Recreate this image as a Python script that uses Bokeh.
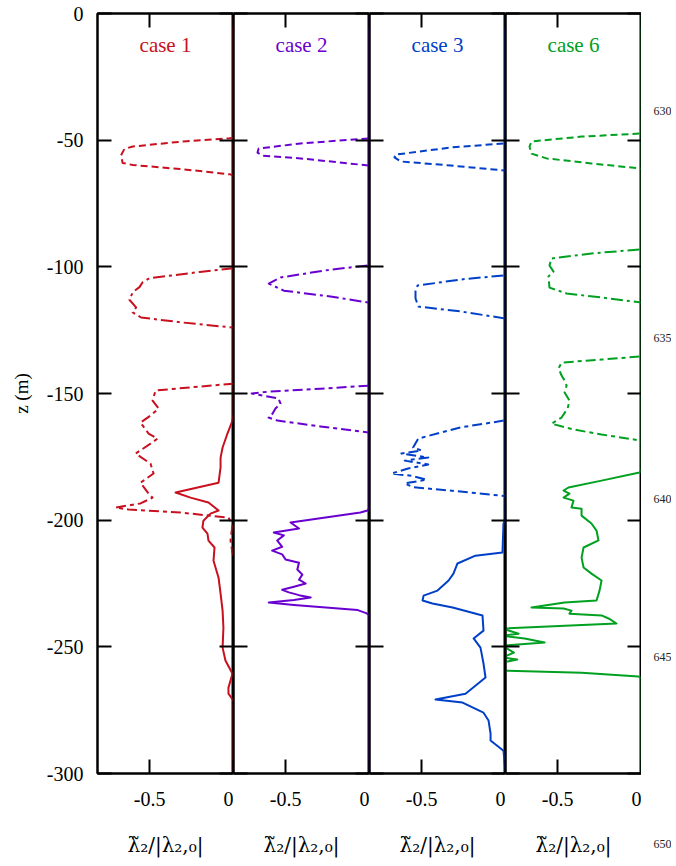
from bokeh.plotting import figure
from bokeh.models import Range1d, FixedTicker, LinearAxis, Label
from bokeh.layouts import row
from bokeh.embed import file_html
from bokeh.resources import INLINE

# ---------------- data (x = lambda2~/|lambda2,0| , z in m) ----------------
case_names = ["case 1", "case 2", "case 3", "case 6"]
case_colors = ["#c8101e", "#6a00d0", "#0040c8", "#00a020"]

# case 1
c1_a_x = [0, -0.03, -0.3, -0.6, -0.65, -0.67, -0.66, -0.6, -0.3, -0.02, 0]
c1_a_z = [-49, -49.3, -50.5, -52.5, -53.5, -56, -59, -59.8, -61.5, -63.5, -64]
c1_b_x = [0, -0.2, -0.5, -0.54, -0.56, -0.6, -0.62, -0.58, -0.6, -0.55, -0.3, 0]
c1_b_z = [-100.5, -102, -104.5, -106, -108, -110, -113, -116, -118, -120, -122, -124]
c1_c_x = [0, -0.464, -0.482, -0.446, -0.494, -0.554, -0.506, -0.452, -0.494, -0.583, -0.494,
          -0.476, -0.554, -0.506, -0.482, -0.554, -0.702, -0.625, -0.315, -0.03, -0.006,
          -0.018, -0.006, 0]
c1_c_z = [-146.1, -148.8, -152.8, -155.9, -158.7, -161.5, -165.8, -167.8, -169.8, -173.7, -177.7,
          -181.6, -185.2, -189.5, -191.1, -193.4, -195.0, -195.8, -197.0, -199.0, -202,
          -208, -213, -214]
c1_d_x = [0, 0, -0.006, -0.036, -0.065, -0.077, -0.077, -0.089, -0.345, -0.256, -0.149, -0.089,
          -0.137, -0.179, -0.185, -0.155, -0.149, -0.113, -0.119, -0.089, -0.077, -0.065,
          -0.060, -0.065, -0.048, -0.006, -0.030, -0.030, 0, 0]
c1_d_z = [0, -158, -160.7, -165.8, -171.3, -175.3, -179.2, -185.2, -189.1, -191.1, -193.0, -196.2,
          -197.4, -200.2, -202.9, -205.3, -208.1, -210.8, -216, -222.7, -229, -235.7,
          -242.4, -250.3, -255.4, -260.6, -266.1, -268.5, -271.2, -300]

# case 2
c2_a_x = [-0.006, -0.41, -0.66, -0.667, -0.637, -0.41, -0.006]
c2_a_z = [-49.3, -51.3, -53.3, -54.9, -56.1, -57.2, -60.0]
c2_b_x = [-0.012, -0.232, -0.53, -0.6, -0.51, -0.232, -0.006]
c2_b_z = [-99.5, -101.1, -104.2, -106.6, -109.4, -111.7, -114.1]
c2_c_x = [-0.006, -0.292, -0.59, -0.702, -0.637, -0.542, -0.53, -0.56, -0.577, -0.601, -0.548,
          -0.292, -0.006]
c2_c_z = [-146.9, -148.1, -149.2, -150.0, -150.8, -152.0, -154.0, -155.9, -157.9, -159.5, -160.7,
          -163.0, -165.4]
c2_d_x = [0, 0, -0.012, -0.054, -0.47, -0.42, -0.57, -0.51, -0.55, -0.52, -0.58, -0.52, -0.50,
          -0.42, -0.43, -0.40, -0.42, -0.38, -0.45, -0.52, -0.48, -0.42, -0.35, -0.45, -0.6,
          -0.45, -0.07, -0.02, 0, 0]
c2_d_z = [0, -195, -196.2, -197, -200.9, -203.3, -204.9, -206.0, -208.0, -210.5, -212.0, -213.5,
          -215.5, -216.8, -219.5, -221.5, -223.5, -225.0, -226.3, -227.5, -228.5, -229.6,
          -230.5, -231.5, -232.5, -233.5, -235.5, -236.7, -237.5, -300]

# case 3
c3_a_x = [-0.012, -0.327, -0.655, -0.661, -0.625, -0.327, 0]
c3_a_z = [-51.3, -52.9, -55.7, -56.8, -58.4, -60, -62]
c3_b_x = [-0.012, -0.268, -0.524, -0.536, -0.536, -0.518, -0.268, 0]
c3_b_z = [-103.4, -105, -107.4, -109.4, -112.5, -115.7, -117.6, -120.4]
c3_c_x = [-0.01, -0.27, -0.52, -0.55, -0.5, -0.62, -0.46, -0.6, -0.46, -0.58, -0.68, -0.56,
          -0.47, -0.6, -0.55, -0.3, 0]
c3_c_z = [-160.7, -163.4, -167.8, -171.3, -172.5, -173.7, -175.3, -176.5, -178, -179.6, -181.6,
          -182.5, -184, -185.5, -187, -188.5, -190.5]
c3_d_x = [0, 0, -0.012, -0.018, -0.179, -0.286, -0.31, -0.339, -0.405, -0.488, -0.494, -0.435,
          -0.315, -0.137, -0.131, -0.19, -0.149, -0.131, -0.119, -0.238, -0.417, -0.256,
          -0.131, -0.101, -0.089, -0.089, -0.012, 0]
c3_d_z = [0, -200, -201.3, -212.8, -214, -217.1, -221.1, -223.8, -227.8, -229.8, -231.7, -232.9,
          -234.5, -237.6, -243.6, -246.7, -250.3, -256.6, -262.1, -268.5, -270.8, -272,
          -276, -279.1, -284.2, -287, -291, -300]

# case 6
c6_a_x = [-0.012, -0.357, -0.655, -0.667, -0.655, -0.565, -0.298, 0]
c6_a_z = [-47.4, -48.6, -50.5, -52.5, -55.3, -57.2, -59.2, -61.2]
c6_b_x = [-0.012, -0.298, -0.536, -0.548, -0.524, -0.554, -0.548, -0.446, -0.238, 0]
c6_b_z = [-93.2, -94.7, -96.7, -99.5, -101.9, -103.8, -108.2, -110.5, -112.1, -114.1]
c6_c_x = [-0.012, -0.238, -0.476, -0.494, -0.476, -0.458, -0.446, -0.458, -0.429, -0.44,
          -0.476, -0.536, -0.405, -0.238, 0]
c6_c_z = [-135.4, -136.6, -137.8, -140.1, -142.9, -144.9, -146.9, -149.6, -152.8, -155.9,
          -159.5, -161.9, -164.2, -166.2, -168.6]
c6_d_x = [0, 0, -0.012, -0.238, -0.435, -0.464, -0.429, -0.464, -0.405, -0.417, -0.357, -0.357,
          -0.298, -0.268, -0.256, -0.345, -0.357, -0.345, -0.298, -0.238, -0.25, -0.268,
          -0.458, -0.655, -0.464, -0.417, -0.429, -0.238, -0.196, -0.149, -0.83, -0.732,
          -0.83, -0.696, -0.577, -0.83, -0.76, -0.83, -0.74, -0.83, -0.83, -0.357, -0.018, 0, 0]
c6_d_z = [0, -180, -181.2, -184.4, -187.1, -188.3, -189.5, -191.1, -192.3, -195, -195.5, -198.2,
          -201.3, -204.1, -208, -210.8, -214.8, -218.7, -221.1, -223.8, -227.8, -231.7,
          -232.5, -234.5, -234.9, -235.7, -236.9, -237.6, -238.8, -240.8, -242.8, -244.8,
          -245.6, -246.7, -248.3, -249.5, -252.3, -254.2, -255, -256.2, -259.4, -260.2,
          -261.7, -262.5, -300]

panels = [
    [(c1_a_x, c1_a_z), (c1_b_x, c1_b_z), (c1_c_x, c1_c_z), (c1_d_x, c1_d_z)],
    [(c2_a_x, c2_a_z), (c2_b_x, c2_b_z), (c2_c_x, c2_c_z), (c2_d_x, c2_d_z)],
    [(c3_a_x, c3_a_z), (c3_b_x, c3_b_z), (c3_c_x, c3_c_z), (c3_d_x, c3_d_z)],
    [(c6_a_x, c6_a_z), (c6_b_x, c6_b_z), (c6_c_x, c6_c_z), (c6_d_x, c6_d_z)],
]
curve_dashes = ["7 4", "12 4 3 4", "10 4 4 4", "solid"]

x_ticks = [-0.5, 0]
x_tick_labels = ["-0.5", "0"]
z_ticks = [0, -50, -100, -150, -200, -250, -300]
z_tick_labels = ["0", "-50", "-100", "-150", "-200", "-250", "-300"]

# margin line numbers at the right of the page
line_numbers = ["630", "635", "640", "645", "650"]
line_number_z = [-38.3, -127.9, -191.5, -254.2, -327.7]

# ---------------- styling ----------------
SERIF = "Liberation Serif"
FRAME_W, FRAME_H = 136, 760
TOP = 13
x_label = "\u03bb\u0303\u2082/|\u03bb\u2082,\u2080|"

y_range = Range1d(-300, 0)


def style_axis(ax, labels):
    ax.major_tick_in = 14
    ax.major_tick_out = 0
    ax.minor_tick_line_color = None
    ax.axis_line_color = "black"
    ax.axis_line_width = 2
    ax.major_tick_line_width = 2
    ax.major_tick_line_color = "black"
    if not labels:
        ax.major_label_text_font_size = "1px"
        ax.major_label_text_color = None
        ax.major_label_standoff = 0
        ax.axis_label = None


figs = []
for i, (name, col, curves) in enumerate(zip(case_names, case_colors, panels)):
    first = i == 0
    p = figure(frame_width=FRAME_W, frame_height=FRAME_H,
               x_range=Range1d(-0.81, 0), y_range=y_range,
               output_backend="svg", toolbar_location=None,
               x_axis_location=None, y_axis_location=None,
               min_border_left=97 if first else 0,
               min_border_right=0,
               min_border_top=TOP, min_border_bottom=90)
    p.background_fill_color = "white"
    p.border_fill_color = "white"
    p.outline_line_color = "black"
    p.outline_line_width = 2
    p.xgrid.visible = False
    p.ygrid.visible = False

    # bottom axis
    bx = LinearAxis(ticker=FixedTicker(ticks=x_ticks),
                    major_label_overrides=dict(zip(x_ticks, x_tick_labels)))
    style_axis(bx, True)
    bx.major_label_text_font = SERIF
    bx.major_label_text_font_size = "20px"
    bx.major_label_text_color = "black"
    bx.major_label_standoff = 18
    bx.axis_label = x_label
    bx.axis_label_text_font = "DejaVu Serif"
    bx.axis_label_text_font_size = "20px"
    bx.axis_label_text_font_style = "normal"
    bx.axis_label_text_color = "black"
    bx.axis_label_standoff = 24
    p.add_layout(bx, "below")

    tx = LinearAxis(ticker=FixedTicker(ticks=x_ticks),
                    major_label_overrides={t: "" for t in x_ticks})
    style_axis(tx, False)
    p.add_layout(tx, "above")

    ly = LinearAxis(ticker=FixedTicker(ticks=z_ticks),
                    major_label_overrides=dict(zip(z_ticks, z_tick_labels)))
    style_axis(ly, first)
    if first:
        ly.major_label_text_font = SERIF
        ly.major_label_text_font_size = "20px"
        ly.major_label_text_color = "black"
        ly.major_label_standoff = 14
        ly.axis_label = "z (m)"
        ly.axis_label_text_font = SERIF
        ly.axis_label_text_font_size = "19px"
        ly.axis_label_text_font_style = "normal"
        ly.axis_label_text_color = "black"
        ly.axis_label_standoff = 12
    else:
        ly.major_label_overrides = {t: "" for t in z_ticks}
    p.add_layout(ly, "left")

    ry = LinearAxis(ticker=FixedTicker(ticks=z_ticks),
                    major_label_overrides={t: "" for t in z_ticks})
    style_axis(ry, False)
    p.add_layout(ry, "right")

    for (xs, zs), dash in zip(curves, curve_dashes):
        p.line(xs, zs, line_color=col, line_width=2, line_dash=dash,
               line_join="round")

    p.add_layout(Label(x=-0.405, y=-12.6, text=name, text_color=col,
                       text_font=SERIF, text_font_size="21px",
                       text_align="center", text_baseline="middle"))
    figs.append(p)

# narrow strip carrying the manuscript line numbers (same vertical scale)
LN_H = 850
ln = figure(frame_width=30, frame_height=LN_H,
            x_range=Range1d(0, 1), y_range=Range1d(-300 * LN_H / FRAME_H, 0),
            output_backend="svg", toolbar_location=None,
            x_axis_location=None, y_axis_location=None,
            min_border_left=0, min_border_right=0, min_border_top=TOP,
            min_border_bottom=0)
ln.outline_line_color = None
ln.xgrid.visible = False
ln.ygrid.visible = False
ln.text(x=[0] * len(line_numbers), y=line_number_z, text=line_numbers,
        x_offset=12, text_color="#222222", text_font="Liberation Sans",
        text_font_size="12px", text_align="left", text_baseline="middle")
figs.append(ln)

layout = row(*figs, spacing=0)
open("out.html", "w").write(file_html(layout, INLINE))
